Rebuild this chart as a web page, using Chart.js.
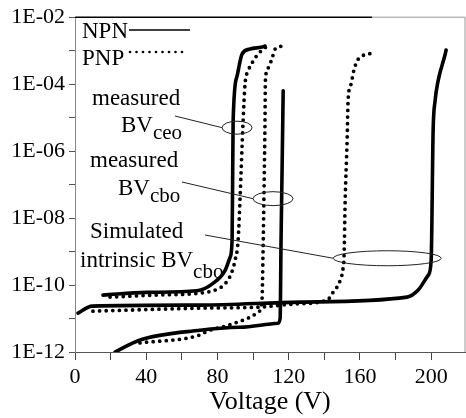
<!DOCTYPE html>
<html>
<head>
<meta charset="utf-8">
<script src="https://cdn.jsdelivr.net/npm/chart.js@4"></script>
<style>
html, body { margin: 0; padding: 0; background: #fff; }
</style>
</head>
<body>
<canvas id="chart" width="466" height="418"></canvas>
<script>
// axis ticks
var xTickValues = [0, 20, 40, 60, 80, 100, 120, 140, 160, 180, 200];
var xTickText = ['0', '', '40', '', '80', '', '120', '', '160', '', '200'];
var yTickExp = [-12, -11, -10, -9, -8, -7, -6, -5, -4, -3, -2];
var yTickText = ['1E-12', '', '1E-10', '', '1E-08', '', '1E-06', '', '1E-04', '', '1E-02'];

// curves, voltage (V) and log10 of current (A)
var npnCeoV = [15.7, 40, 68.5, 77.5, 84.3, 87.1, 88.2, 88.5, 88.8, 91.0, 93.8, 98.3, 105.0, 106.7];
var npnCeoLogI = [-10.30, -10.22, -10.17, -9.95, -9.56, -9.17, -8.67, -7.0, -5.1, -3.76, -3.10, -2.95, -2.89, -2.86];

var pnpCeoV = [19.7, 45, 70.2, 80, 84.5, 87.8, 89.9, 91.6, 92.7, 94.4, 95.5, 97.2, 99.4, 102.8, 107.9];
var pnpCeoLogI = [-10.36, -10.30, -10.24, -10.12, -9.95, -9.65, -9.26, -8.67, -7.39, -5.1, -3.99, -3.61, -3.37, -3.10, -2.86];

var npnCboV = [22.5, 36.5, 70.2, 92.7, 114.0, 115.2, 115.7, 116.3, 116.9];
var npnCboLogI = [-12.0, -11.64, -11.35, -11.26, -11.14, -10.99, -8.67, -6.5, -4.2];

var pnpCboV = [36.5, 70.2, 74.2, 86, 98.3, 102.8, 105.0, 105.6, 106.2, 106.7, 106.9, 108.4, 110.7, 112.4, 116.3];
var pnpCboLogI = [-11.73, -11.49, -11.38, -11.2, -10.96, -10.81, -10.45, -9.0, -7.0, -5.1, -3.9, -3.52, -3.22, -2.95, -2.86];

var npnSimV = [1.7, 9.6, 70.2, 126.4, 186.5, 192.7, 198.3, 200.0, 201.1, 202.2, 203.9, 207.9, 208.4];
var npnSimLogI = [-10.84, -10.63, -10.60, -10.51, -10.36, -10.15, -9.71, -9.26, -5.39, -4.5, -3.9, -3.10, -2.98];

var pnpSimV = [10.1, 70.2, 102.8, 125, 141.6, 145.0, 148.9, 150.6, 151.1, 151.7, 152.8, 153.4, 155.1, 156.2, 158.4, 161.2, 167.4];
var pnpSimLogI = [-10.78, -10.69, -10.66, -10.56, -10.45, -10.21, -9.86, -9.47, -9.11, -7.5, -5.69, -4.44, -3.99, -3.67, -3.31, -3.16, -3.07];

var serif = "'Liberation Serif', 'Times New Roman', serif";

function toPoints(vs, logs) {
    return vs.map(function (v, i) { return { x: v, y: Math.pow(10, logs[i]) }; });
}

function solid(vs, logs) {
    return {
        data: toPoints(vs, logs),
        borderColor: '#000',
        borderWidth: 3.6,
        borderCapStyle: 'round',
        borderJoinStyle: 'round',
        cubicInterpolationMode: 'monotone',
        pointRadius: 0,
        fill: false
    };
}

function dotted(vs, logs) {
    return {
        data: toPoints(vs, logs),
        borderColor: '#000',
        borderWidth: 3.8,
        borderDash: [0, 6.6],
        borderCapStyle: 'round',
        cubicInterpolationMode: 'monotone',
        pointRadius: 0,
        fill: false
    };
}

// ellipses marking the breakdown points: centre in data units, radii in px
var marks = [
    { v: 91.0, logI: -5.30, rx: 15, ry: 6.5, from: [175, 116] },
    { v: 111.2, logI: -7.42, rx: 20, ry: 7, from: [182, 182] },
    { v: 175.3, logI: -9.20, rx: 54, ry: 7.5, from: [205, 235] }
];

var overlay = {
    id: 'overlay',
    afterDraw: function (chart) {
        var ctx = chart.ctx;
        var a = chart.chartArea;
        var xs = chart.scales.x, ys = chart.scales.y;
        ctx.save();

        // frame top / right
        ctx.lineWidth = 1.5;
        ctx.strokeStyle = '#000';
        ctx.beginPath();
        ctx.moveTo(a.left, a.top);
        ctx.lineTo(372, a.top);
        ctx.stroke();
        ctx.lineWidth = 1;
        ctx.strokeStyle = '#999';
        ctx.beginPath();
        ctx.moveTo(372, a.top);
        ctx.lineTo(a.right, a.top);
        ctx.lineTo(a.right, a.bottom);
        ctx.stroke();

        // legend
        ctx.fillStyle = '#000';
        ctx.font = '23px ' + serif;
        ctx.textBaseline = 'alphabetic';
        ctx.fillText('NPN', 82, 38);
        ctx.fillText('PNP', 82, 65);
        ctx.strokeStyle = '#000';
        ctx.lineWidth = 1.6;
        ctx.beginPath();
        ctx.moveTo(129, 30);
        ctx.lineTo(190, 30);
        ctx.stroke();
        for (var d = 130; d <= 183; d += 6.5) {
            ctx.beginPath();
            ctx.arc(d, 52, 1.3, 0, Math.PI * 2);
            ctx.fill();
        }

        // annotation text
        function bv(x, y, sub, subDrop) {
            ctx.font = '23px ' + serif;
            ctx.fillText('BV', x, y);
            var w = ctx.measureText('BV').width;
            ctx.font = '21px ' + serif;
            ctx.fillText(sub, x + w, y + subDrop);
        }
        ctx.font = '23px ' + serif;
        ctx.fillText('measured', 92, 105);
        bv(121, 132, 'ceo', 7);
        ctx.font = '23px ' + serif;
        ctx.fillText('measured', 90, 167);
        bv(118, 195, 'cbo', 7);
        ctx.font = '23px ' + serif;
        ctx.fillText('Simulated', 90, 238);
        ctx.fillText('intrinsic ', 80, 267);
        var iw = ctx.measureText('intrinsic ').width;
        bv(80 + iw, 267, 'cbo', 11);

        // ellipses and leader lines
        ctx.lineWidth = 1;
        ctx.strokeStyle = '#222';
        marks.forEach(function (m) {
            var cx = xs.getPixelForValue(m.v);
            var cy = ys.getPixelForValue(Math.pow(10, m.logI));
            ctx.beginPath();
            ctx.ellipse(cx, cy, m.rx, m.ry, 0, 0, Math.PI * 2);
            ctx.stroke();
            ctx.beginPath();
            ctx.moveTo(m.from[0], m.from[1]);
            ctx.lineTo(cx - m.rx, cy);
            ctx.stroke();
        });
        ctx.restore();
    }
};

new Chart(document.getElementById('chart'), {
    type: 'line',
    data: {
        datasets: [
            solid(npnCeoV, npnCeoLogI),
            dotted(pnpCeoV, pnpCeoLogI),
            solid(npnCboV, npnCboLogI),
            dotted(pnpCboV, pnpCboLogI),
            solid(npnSimV, npnSimLogI),
            dotted(pnpSimV, pnpSimLogI)
        ]
    },
    options: {
        responsive: false,
        animation: false,
        devicePixelRatio: 1,
        layout: { padding: { top: 16, right: 1, left: 0, bottom: 0 } },
        plugins: { legend: { display: false }, tooltip: { enabled: false } },
        scales: {
            x: {
                type: 'linear',
                min: 0,
                max: 219,
                afterBuildTicks: function (s) { s.ticks = xTickValues.map(function (v) { return { value: v }; }); },
                afterFit: function (s) { s.height = 66; },
                ticks: {
                    autoSkip: false,
                    maxRotation: 0,
                    padding: 4,
                    color: '#000',
                    font: { family: serif, size: 22 },
                    callback: function (v, i) { return xTickText[i]; }
                },
                grid: { drawOnChartArea: false, drawTicks: true, tickLength: 8, tickColor: '#444', tickWidth: 1 },
                border: { display: true, color: '#555', width: 1 },
                title: {
                    display: true,
                    text: 'Voltage (V)',
                    color: '#000',
                    font: { family: serif, size: 26 },
                    padding: { top: 0, bottom: 0 }
                }
            },
            y: {
                type: 'logarithmic',
                min: 1e-12,
                max: 1e-2,
                afterBuildTicks: function (s) { s.ticks = yTickExp.map(function (e) { return { value: Math.pow(10, e) }; }); },
                afterFit: function (s) { s.width = 75; },
                ticks: {
                    autoSkip: false,
                    padding: 4,
                    color: '#000',
                    font: { family: serif, size: 22 },
                    callback: function (v, i) { return yTickText[i]; }
                },
                grid: { drawOnChartArea: false, drawTicks: true, tickLength: 6, tickColor: '#555', tickWidth: 1 },
                border: { display: true, color: '#888', width: 1 }
            }
        }
    },
    plugins: [overlay]
});
</script>
</body>
</html>
